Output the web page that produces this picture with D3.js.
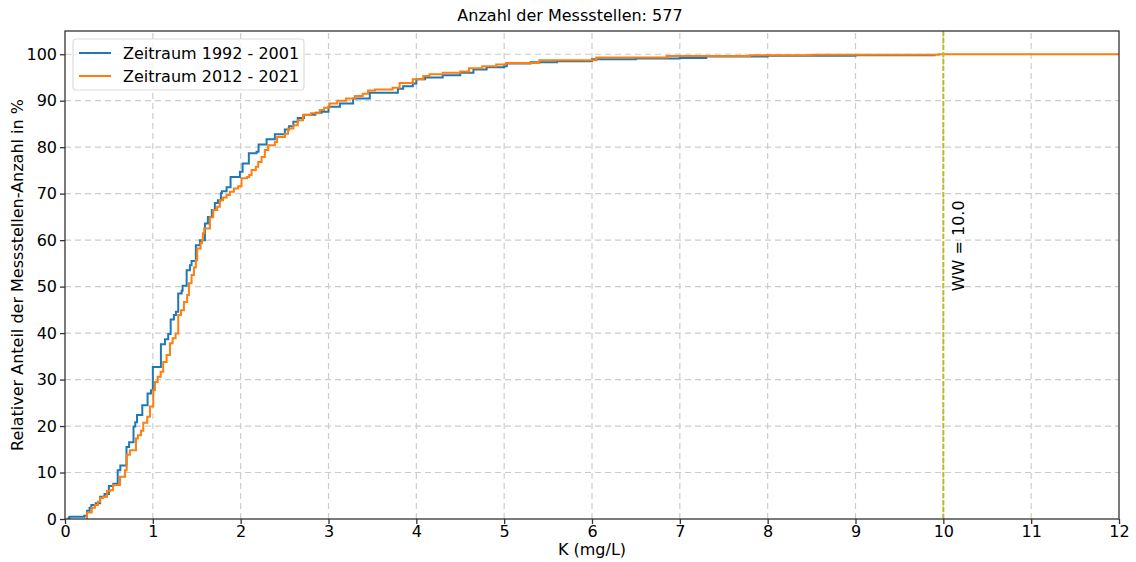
<!DOCTYPE html>
<html>
<head>
<meta charset="utf-8">
<script src="https://cdn.jsdelivr.net/npm/d3@7"></script>
<style>
  html, body { margin: 0; padding: 0; background: #fff; }
  svg { display: block; font-family: "DejaVu Sans", sans-serif; }
</style>
</head>
<body>
<svg id="chart" width="1136" height="562"></svg>
<script>
// Cumulative share of monitoring sites (in %) at or below each K concentration (mg/L)
const seriesNames = ["Zeitraum 1992 - 2001", "Zeitraum 2012 - 2021"];
const seriesColors = ["#1f77b4", "#ff7f0e"];

const kEarly = [0.03, 0.05, 0.22, 0.25, 0.28, 0.30, 0.35, 0.40, 0.45, 0.50, 0.55, 0.60, 0.63, 0.70, 0.73, 0.78, 0.80, 0.82, 0.88, 0.94, 0.98,
  1.00, 1.092, 1.138, 1.175, 1.203, 1.240, 1.263, 1.289, 1.328, 1.339, 1.385, 1.422, 1.441, 1.490, 1.536,
  1.593, 1.627, 1.672, 1.706, 1.741, 1.775, 1.786, 1.84, 1.885, 1.991, 2.022, 2.093, 2.181, 2.204, 2.295, 2.389, 2.503,
  2.55, 2.60, 2.65, 2.72, 2.85, 2.92, 3.00, 3.13, 3.28, 3.47, 3.79, 3.85, 3.96, 4.00, 4.10, 4.30, 4.50, 4.65, 4.80, 5.00,
  5.03, 5.30, 5.60, 6.00, 6.50, 7.00, 7.30, 8.00, 9.00, 9.90];
const pctEarly = [0.2, 0.5, 0.7, 1.8, 2.4, 3.0, 3.4, 4.8, 5.4, 7.1, 7.6, 10.5, 11.5, 15.5, 16.5, 19.9, 20.8, 22.4, 24.5, 27.0, 27.7,
  32.7, 37.6, 38.7, 39.8, 42.9, 43.9, 44.6, 48.5, 49.1, 50.2, 53.5, 54.6, 55.5, 58.9, 60.0,
  63.6, 65.0, 66.5, 68.0, 68.6, 70.1, 70.5, 71.4, 73.6, 74.7, 76.5, 78.7, 79.0, 80.6, 81.7, 82.8, 83.8,
  84.5, 85.5, 86.3, 87.0, 87.4, 87.6, 88.7, 89.4, 90.5, 91.7, 92.6, 93.1, 93.7, 94.6, 95.0, 95.5, 96.0, 96.7, 97.2, 97.4,
  98.0, 98.3, 98.5, 98.9, 99.1, 99.2, 99.5, 99.7, 99.8, 100.0];

const kLate = [0.25, 0.25, 0.304, 0.341, 0.375, 0.398, 0.432, 0.478, 0.512, 0.546, 0.626, 0.683, 0.702, 0.739, 0.808, 0.830, 0.865, 0.891, 0.936, 0.967,
  1.005, 1.024, 1.055, 1.089, 1.118, 1.157, 1.195, 1.225, 1.259, 1.289, 1.320, 1.354, 1.391, 1.411, 1.441, 1.468, 1.490, 1.505, 1.544, 1.559,
  1.57, 1.585, 1.65, 1.687, 1.733, 1.763, 1.80, 1.84, 1.877, 1.923, 1.972, 2.01, 2.074, 2.097, 2.124, 2.173, 2.20, 2.238, 2.275, 2.313, 2.389, 2.415, 2.503, 2.54,
  2.60, 2.65, 2.71, 2.80, 2.90, 2.95, 3.01, 3.10, 3.20, 3.30, 3.39, 3.45, 3.53, 3.73, 3.81, 3.96, 4.08, 4.15, 4.30, 4.50, 4.60, 4.75, 4.91, 5.02,
  5.40, 6.05, 6.85, 7.80, 8.50, 9.95, 12.5];
const pctLate = [0.0, 1.4, 2.4, 3.0, 3.7, 4.5, 4.8, 6.0, 6.2, 7.3, 9.1, 10.5, 13.8, 14.8, 17.3, 18.0, 19.0, 20.7, 22.0, 24.2,
  27.7, 29.5, 30.6, 31.7, 33.8, 35.3, 37.8, 38.9, 39.9, 43.9, 44.9, 46.7, 48.2, 50.7, 52.5, 54.1, 55.7, 58.2, 59.4, 60.0,
  61.5, 62.5, 64.9, 66.5, 67.2, 68.6, 69.2, 69.7, 70.4, 71.1, 71.6, 73.3, 73.6, 74.0, 75.1, 75.8, 76.8, 77.9, 79.4, 80.4, 81.1, 82.2, 82.9, 84.0,
  84.7, 85.8, 86.9, 87.3, 88.0, 88.5, 89.4, 90.0, 90.5, 91.0, 91.5, 92.2, 92.4, 92.8, 93.8, 94.6, 95.3, 95.7, 96.0, 96.3, 97.0, 97.4, 97.8, 98.1,
  98.7, 99.3, 99.6, 99.8, 99.9, 100.0, 100.0];

const xTicks = [0, 1, 2, 3, 4, 5, 6, 7, 8, 9, 10, 11, 12];
const yTicks = [0, 10, 20, 30, 40, 50, 60, 70, 80, 90, 100];
const limitValue = 10.0;
const limitLabel = "WW = 10.0";
const titleText = "Anzahl der Messstellen: 577";
const xLabel = "K (mg/L)";
const yLabel = "Relativer Anteil der Messstellen-Anzahl in %";

const margin = { left: 65, right: 17, top: 31, bottom: 43 };
const W = 1136, H = 562;
const FS = 16;
const svg = d3.select("#chart");

const x = d3.scaleLinear().domain([0, 12]).range([margin.left, W - margin.right]);
const y = d3.scaleLinear().domain([0, 105]).range([H - margin.bottom, margin.top]);

// clip region for the plot area
svg.append("defs").append("clipPath").attr("id", "plotClip")
  .append("rect")
  .attr("x", x(0)).attr("y", y(105))
  .attr("width", x(12) - x(0)).attr("height", y(0) - y(105));

// grid
const grid = svg.append("g").attr("class", "grid");
grid.selectAll("line.gx").data(xTicks.slice(1, -1)).join("line")
  .attr("x1", d => x(d)).attr("x2", d => x(d))
  .attr("y1", y(0)).attr("y2", y(105))
  .attr("stroke", "#cccccc").attr("stroke-width", 1.2).attr("stroke-dasharray", "6,4");
grid.selectAll("line.gy").data(yTicks.slice(1)).join("line")
  .attr("x1", x(0)).attr("x2", x(12))
  .attr("y1", d => y(d)).attr("y2", d => y(d))
  .attr("stroke", "#cccccc").attr("stroke-width", 1.2).attr("stroke-dasharray", "6,4");

// ECDF step lines
const line = d3.line().x(d => x(d[0])).y(d => y(d[1])).curve(d3.curveStepAfter);
const series = [
  d3.zip(kEarly, pctEarly),
  d3.zip(kLate, pctLate)
];
const plot = svg.append("g").attr("clip-path", "url(#plotClip)");
series.forEach((s, i) => {
  plot.append("path")
    .datum(s)
    .attr("fill", "none")
    .attr("stroke", seriesColors[i])
    .attr("stroke-width", 2)
    .attr("stroke-linejoin", "miter")
    .attr("d", line);
});

// limit value marker
plot.append("line")
  .attr("x1", x(limitValue)).attr("x2", x(limitValue))
  .attr("y1", y(0)).attr("y2", y(105))
  .attr("stroke", "#bcbd22").attr("stroke-width", 2).attr("stroke-dasharray", "5,2");
svg.append("text")
  .attr("transform", `translate(${x(limitValue) + 21},${y(49)}) rotate(-90)`)
  .attr("font-size", FS).attr("fill", "#000")
  .text(limitLabel);

// axes
const xAxis = d3.axisBottom(x).tickValues(xTicks).tickFormat(d3.format("d")).tickSize(5).tickPadding(2);
const yAxis = d3.axisLeft(y).tickValues(yTicks).tickFormat(d3.format("d")).tickSize(5).tickPadding(3);

const gx = svg.append("g").attr("transform", `translate(0,${y(0)})`).call(xAxis);
const gy = svg.append("g").attr("transform", `translate(${x(0)},0)`).call(yAxis);
[gx, gy].forEach(g => {
  g.select(".domain").remove();
  g.selectAll("line").attr("stroke", "#333").attr("stroke-width", 1.3);
  g.selectAll("text").attr("font-size", FS).attr("fill", "#000").attr("font-family", "DejaVu Sans, sans-serif");
});

// frame
svg.append("rect")
  .attr("x", x(0)).attr("y", y(105))
  .attr("width", x(12) - x(0)).attr("height", y(0) - y(105))
  .attr("fill", "none").attr("stroke", "#333").attr("stroke-width", 1.3);

// titles
svg.append("text").attr("x", 570).attr("y", 21).attr("text-anchor", "middle")
  .attr("font-size", FS).text(titleText);
svg.append("text").attr("x", (x(0) + x(12)) / 2).attr("y", 555).attr("text-anchor", "middle")
  .attr("font-size", FS).text(xLabel);
svg.append("text")
  .attr("transform", `translate(23,${(y(0) + y(105)) / 2}) rotate(-90)`)
  .attr("text-anchor", "middle").attr("font-size", FS).text(yLabel);

// legend
const lg = svg.append("g").attr("transform", `translate(${x(0) + 8},${y(105) + 8})`);
lg.append("rect").attr("width", 231).attr("height", 51).attr("rx", 3)
  .attr("fill", "#fff").attr("fill-opacity", 0.8).attr("stroke", "#dcdcdc").attr("stroke-width", 1.2);
seriesNames.forEach((name, i) => {
  const yy = 14 + i * 23;
  lg.append("line").attr("x1", 6).attr("x2", 38).attr("y1", yy).attr("y2", yy)
    .attr("stroke", seriesColors[i]).attr("stroke-width", 2);
  lg.append("text").attr("x", 50).attr("y", yy + 6).attr("font-size", FS).text(name);
});
</script>
</body>
</html>
